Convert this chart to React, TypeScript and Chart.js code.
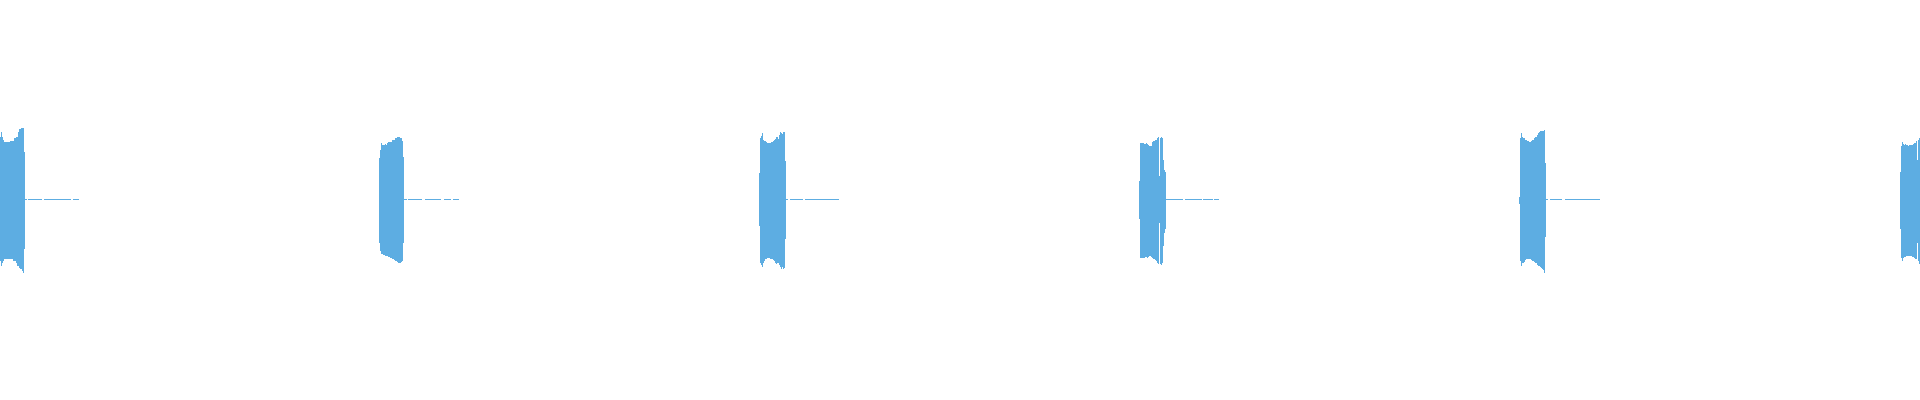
import React, { useEffect, useRef } from "react";
import { Chart, registerables } from "chart.js";

Chart.register(...registerables);

// each burst is stored as a min/max envelope, one value per 2.5 ms frame
const FRAME_MS = 2.5;
const X_MAX_MS = 4800;
const BURST_START_MS = [0, 947.5, 1897.5, 2847.5, 3797.5, 4750];

const BURST_1_MAX = [0.315, 0.34, 0.315, 0.3, 0.29, 0.29, 0.29, 0.29, 0.29, 0.29, 0.295, 0.295, 0.295, 0.295, 0.31, 0.31, 0.315, 0.315, 0.34, 0.355, 0.355, 0.36, 0.36, 0.36, 0.24];
const BURST_1_MIN = [-0.305, -0.33, -0.315, -0.305, -0.295, -0.295, -0.295, -0.295, -0.295, -0.295, -0.295, -0.295, -0.295, -0.305, -0.305, -0.305, -0.315, -0.33, -0.33, -0.34, -0.345, -0.345, -0.355, -0.365, -0.245];

const BURST_2_MAX = [0.21, 0.25, 0.285, 0.275, 0.275, 0.275, 0.28, 0.275, 0.285, 0.29, 0.29, 0.29, 0.29, 0.3, 0.3, 0.3, 0.31, 0.31, 0.315, 0.315, 0.315, 0.31, 0.31, 0.295, 0.215];
const BURST_2_MIN = [-0.215, -0.255, -0.27, -0.27, -0.275, -0.275, -0.28, -0.28, -0.28, -0.285, -0.285, -0.29, -0.29, -0.295, -0.295, -0.3, -0.305, -0.305, -0.31, -0.315, -0.315, -0.315, -0.31, -0.305, -0.215];

const BURST_3_MAX = [0.135, 0.31, 0.32, 0.335, 0.3, 0.295, 0.295, 0.29, 0.285, 0.285, 0.285, 0.285, 0.29, 0.29, 0.295, 0.3, 0.305, 0.315, 0.315, 0.305, 0.325, 0.34, 0.335, 0.33, 0.34, 0.34, 0.195];
const BURST_3_MIN = [-0.13, -0.315, -0.325, -0.335, -0.315, -0.305, -0.295, -0.295, -0.29, -0.29, -0.29, -0.295, -0.295, -0.295, -0.3, -0.305, -0.315, -0.32, -0.315, -0.315, -0.325, -0.335, -0.345, -0.335, -0.345, -0.34, -0.195];

const BURST_4_MAX = [0.095, 0.285, 0.285, 0.285, 0.285, 0.28, 0.28, 0.285, 0.28, 0.275, 0.27, 0.27, 0.27, 0.29, 0.295, 0.295, 0.3, 0.3, 0.31, 0.315, 0.12, 0.31, 0.315, 0.31, 0.2, 0.15, 0.14];
const BURST_4_MIN = [-0.095, -0.29, -0.29, -0.29, -0.29, -0.29, -0.285, -0.285, -0.29, -0.285, -0.28, -0.28, -0.285, -0.29, -0.295, -0.295, -0.3, -0.305, -0.315, -0.32, -0.115, -0.32, -0.325, -0.315, -0.23, -0.165, -0.145];

const BURST_5_MAX = [0.015, 0.31, 0.335, 0.315, 0.31, 0.31, 0.3, 0.3, 0.295, 0.295, 0.29, 0.29, 0.295, 0.3, 0.3, 0.31, 0.315, 0.315, 0.325, 0.335, 0.34, 0.345, 0.345, 0.345, 0.345, 0.35, 0.185];
const BURST_5_MIN = [-0.02, -0.305, -0.33, -0.315, -0.315, -0.31, -0.3, -0.295, -0.295, -0.295, -0.295, -0.295, -0.3, -0.305, -0.305, -0.31, -0.315, -0.315, -0.325, -0.33, -0.33, -0.335, -0.34, -0.345, -0.35, -0.365, -0.185];

const BURST_6_MAX = [0.14, 0.27, 0.29, 0.28, 0.275, 0.28, 0.275, 0.275, 0.27, 0.275, 0.275, 0.275, 0.275, 0.28, 0.285, 0.285, 0.295, 0.2, 0.3, 0.31];
const BURST_6_MIN = [-0.145, -0.29, -0.305, -0.29, -0.285, -0.285, -0.28, -0.28, -0.28, -0.28, -0.28, -0.28, -0.285, -0.285, -0.29, -0.295, -0.295, -0.215, -0.305, -0.32];

// low-level tail after each burst: [start ms, end ms]
const NOISE_SEGMENTS_MS = [
  [62.5, 67.5], [70, 105], [110, 177.5], [182.5, 197.5],
  [1010, 1017.5], [1020, 1055], [1062.5, 1102.5], [1110, 1127.5], [1132.5, 1147.5],
  [1965, 1970], [1975, 2007.5], [2012.5, 2097.5],
  [2915, 2957.5], [2962.5, 3005], [3007.5, 3032.5], [3035, 3047.5],
  [3865, 3870], [3875, 3905], [3912.5, 4000],
];
const NOISE_LEVEL = 0.005;

const WAVE_COLOR = "#5dade2";

const BURST_MAX = [BURST_1_MAX, BURST_2_MAX, BURST_3_MAX, BURST_4_MAX, BURST_5_MAX, BURST_6_MAX];
const BURST_MIN = [BURST_1_MIN, BURST_2_MIN, BURST_3_MIN, BURST_4_MIN, BURST_5_MIN, BURST_6_MIN];

export default function App() {
  const canvasRef = useRef<HTMLCanvasElement | null>(null);
  const chartRef = useRef<Chart | null>(null);

  useEffect(() => {
    document.body.style.margin = "0";
    if (!canvasRef.current) return;

    const envelope = BURST_START_MS.flatMap((start, b) =>
      BURST_MAX[b].map((hi, i) => ({
        x: start + (i + 0.5) * FRAME_MS,
        y: [BURST_MIN[b][i], hi],
      })),
    );

    const noise: { x: number; y: number[] }[] = [];
    NOISE_SEGMENTS_MS.forEach(([s, e]) => {
      for (let t = s; t < e; t += FRAME_MS) {
        noise.push({ x: t + FRAME_MS / 2, y: [0, NOISE_LEVEL] });
      }
    });

    const barStyle = {
      backgroundColor: WAVE_COLOR,
      borderWidth: 0,
      barPercentage: 1,
      categoryPercentage: 1,
      grouped: false,
      inflateAmount: 0,
    };

    chartRef.current = new Chart(canvasRef.current, {
      type: "bar",
      data: {
        datasets: [
          { label: "Signal", data: envelope as any, ...barStyle },
          { label: "Noise", data: noise as any, ...barStyle },
        ],
      },
      options: {
        animation: false,
        responsive: true,
        maintainAspectRatio: false,
        events: [],
        layout: { padding: 0 },
        plugins: { legend: { display: false }, tooltip: { enabled: false }, title: { display: false } },
        scales: {
          x: { type: "linear", min: 0, max: X_MAX_MS, offset: false, display: false },
          y: { min: -1, max: 1, display: false },
        },
      },
    });

    return () => {
      chartRef.current?.destroy();
    };
  }, []);

  return (
    <div style={{ position: "relative", width: "100%", height: 400, background: "#fff" }}>
      <canvas ref={canvasRef} />
    </div>
  );
}
